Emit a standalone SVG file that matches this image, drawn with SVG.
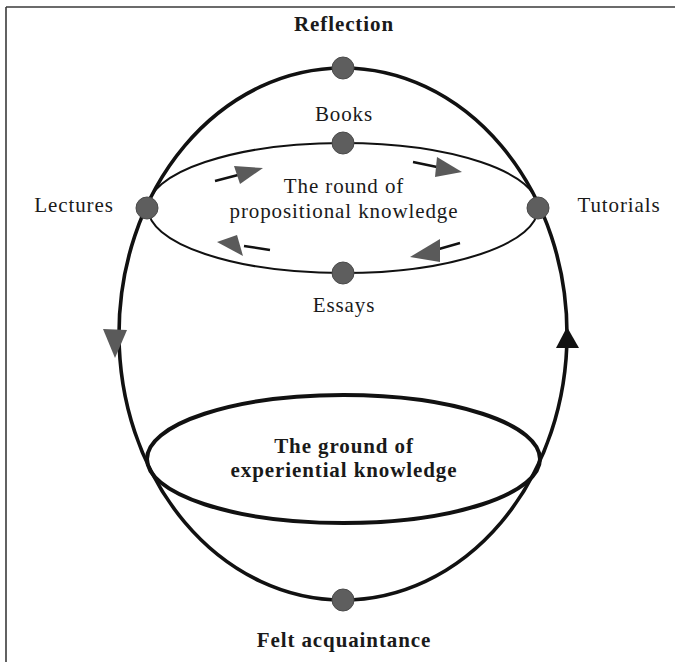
<svg xmlns="http://www.w3.org/2000/svg" width="675" height="662" viewBox="0 0 675 662">
<style>
.serif{font-family:"Liberation Serif","Times New Roman",serif;font-size:21px;fill:#1a1a1a;letter-spacing:0.9px;text-anchor:middle}
.bold{font-weight:bold}
.dot{fill:#5e5e5e;stroke:#4a4a4a;stroke-width:1}
.loop{fill:none;stroke:#111}
.head{fill:#5a5a5a}
.tail{stroke:#111;stroke-width:2.5;fill:none}
</style>
<rect x="0" y="0" width="675" height="662" fill="#fff"/>
<g id="frame" fill="none" stroke="#3a3a3a" stroke-width="1.6">
<line x1="6" y1="7" x2="675" y2="7"/>
<line x1="6" y1="7" x2="6" y2="662"/>
</g>
<g id="connectors">
<ellipse class="loop" cx="343" cy="334" rx="224" ry="266" stroke-width="3.6"/>
<polygon class="head" points="103,329 127,330 115,358"/>
<polygon fill="#111" points="556,348 579,348 567,327"/>
<line class="tail" x1="215" y1="181" x2="238" y2="175"/>
<polygon class="head" points="234,166 263,168 240,184"/>
<line class="tail" x1="413" y1="162" x2="437" y2="167"/>
<polygon class="head" points="437,157 462,172 435,177"/>
<line class="tail" x1="460" y1="243" x2="439" y2="249"/>
<polygon class="head" points="440,239 410,257 440,262"/>
<line class="tail" x1="270" y1="250" x2="244" y2="246"/>
<polygon class="head" points="237,235 217,242 243,256"/>
</g>
<g id="round-propositional">
<ellipse class="loop" cx="343" cy="208" rx="195" ry="65" stroke-width="2"/>
<text class="serif" x="344" y="193">The round of</text>
<text class="serif" x="344" y="218">propositional knowledge</text>
</g>
<g id="ground-experiential">
<ellipse class="loop" cx="343.5" cy="459" rx="196.5" ry="64" stroke-width="4"/>
<text class="serif bold" x="344" y="453">The ground of</text>
<text class="serif bold" x="344" y="477">experiential knowledge</text>
</g>
<g id="reflection">
<circle class="dot" cx="343" cy="68" r="11"/>
<text class="serif bold" x="344" y="31">Reflection</text>
</g>
<g id="books">
<circle class="dot" cx="343" cy="143" r="11"/>
<text class="serif" x="344" y="121">Books</text>
</g>
<g id="lectures">
<circle class="dot" cx="147" cy="208" r="11"/>
<text class="serif" x="74" y="212">Lectures</text>
</g>
<g id="tutorials">
<circle class="dot" cx="538" cy="208" r="11"/>
<text class="serif" x="619" y="212">Tutorials</text>
</g>
<g id="essays">
<circle class="dot" cx="343" cy="273" r="11"/>
<text class="serif" x="344" y="312">Essays</text>
</g>
<g id="felt-acquaintance">
<circle class="dot" cx="343" cy="600" r="11"/>
<text class="serif bold" x="344" y="647">Felt acquaintance</text>
</g>
</svg>
